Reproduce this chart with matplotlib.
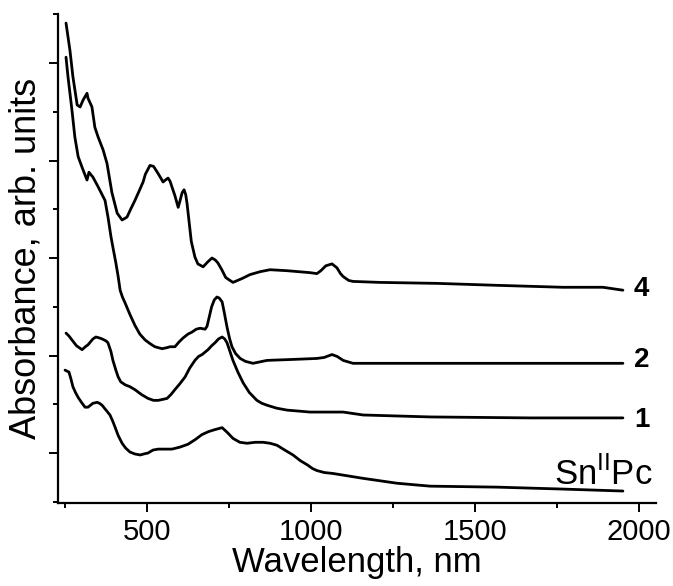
import numpy as np
import matplotlib
matplotlib.use('Agg')
import matplotlib.pyplot as plt
from matplotlib.ticker import MultipleLocator, FixedLocator

plt.rcParams['font.family'] = ['Liberation Sans', 'DejaVu Sans']
plt.rcParams['mathtext.fontset'] = 'custom'
plt.rcParams['mathtext.rm'] = 'Liberation Sans'

# Spectra (wavelength in nm, absorbance in arb. units, offset)
wl_4 = [253, 265, 274, 287, 296, 305, 317, 320, 332, 341, 351, 366, 378, 393, 409,
        424, 439, 450, 463, 475, 488, 495, 509, 520, 535, 549, 556, 564, 570, 585,
        595, 600, 607, 613, 618, 622, 628, 635, 646, 655, 671, 685, 698, 708, 716,
        728, 740, 753, 762, 790, 814, 845, 875, 927, 997, 1018, 1030, 1045, 1064,
        1079, 1090, 1098, 1115, 1128, 1210, 1384, 1567, 1768, 1890, 1951]
abs_4 = [4.41, 4.13, 3.86, 3.57, 3.55, 3.62, 3.69, 3.64, 3.55, 3.34, 3.24, 3.11, 2.97,
         2.67, 2.46, 2.39, 2.42, 2.50, 2.59, 2.68, 2.78, 2.86, 2.95, 2.94, 2.86, 2.78,
         2.80, 2.82, 2.79, 2.64, 2.52, 2.58, 2.67, 2.70, 2.65, 2.56, 2.38, 2.17, 2.01,
         1.94, 1.91, 1.96, 2.00, 1.98, 1.95, 1.88, 1.80, 1.77, 1.75, 1.79, 1.83, 1.86,
         1.88, 1.87, 1.85, 1.84, 1.87, 1.92, 1.94, 1.90, 1.84, 1.81, 1.77, 1.76, 1.75,
         1.74, 1.72, 1.70, 1.70, 1.67]

wl_2 = [253, 259, 271, 280, 290, 302, 317, 323, 335, 351, 372, 381, 390, 396, 405,
        412, 418, 425, 433, 448, 463, 478, 494, 510, 524, 546, 560, 570, 585, 598,
        610, 625, 637, 650, 662, 677, 683, 690, 697, 705, 713, 720, 729, 735, 744,
        752, 759, 770, 784, 800, 823, 866, 945, 1018, 1040, 1064, 1080, 1098, 1128,
        1363, 1668, 1951]
abs_2 = [4.06, 3.86, 3.52, 3.24, 3.04, 2.93, 2.80, 2.88, 2.83, 2.73, 2.59, 2.42, 2.22,
         2.11, 1.95, 1.81, 1.67, 1.60, 1.54, 1.42, 1.31, 1.22, 1.16, 1.12, 1.09, 1.07,
         1.08, 1.09, 1.09, 1.14, 1.18, 1.22, 1.24, 1.27, 1.28, 1.27, 1.30, 1.40, 1.50,
         1.57, 1.60, 1.59, 1.55, 1.45, 1.29, 1.17, 1.09, 1.02, 0.97, 0.94, 0.92, 0.95,
         0.96, 0.97, 0.98, 1.01, 0.99, 0.95, 0.92, 0.92, 0.92, 0.92]

wl_1 = [253, 262, 271, 285, 302, 312, 320, 335, 344, 355, 363, 375, 381, 390, 396,
        405, 412, 420, 433, 448, 463, 483, 503, 520, 534, 548, 561, 573, 585, 600,
        616, 630, 646, 657, 668, 686, 697, 707, 718, 729, 737, 744, 752, 762, 777,
        793, 812, 835, 850, 866, 895, 927, 997, 1067, 1098, 1159, 1363, 1668, 1951]
abs_1 = [1.23, 1.20, 1.16, 1.10, 1.06, 1.09, 1.11, 1.17, 1.19, 1.18, 1.17, 1.15, 1.13,
         1.04, 0.95, 0.85, 0.78, 0.73, 0.70, 0.68, 0.65, 0.60, 0.56, 0.54, 0.54, 0.55,
         0.56, 0.60, 0.65, 0.71, 0.78, 0.87, 0.95, 0.99, 1.01, 1.06, 1.10, 1.13, 1.17,
         1.19, 1.17, 1.13, 1.05, 0.95, 0.83, 0.72, 0.62, 0.54, 0.51, 0.49, 0.46, 0.44,
         0.42, 0.42, 0.42, 0.39, 0.37, 0.36, 0.36]

wl_pc = [250, 262, 268, 274, 282, 290, 300, 311, 320, 335, 348, 355, 363, 375, 387,
         395, 402, 412, 424, 435, 448, 463, 479, 490, 503, 518, 534, 555, 576, 600,
         625, 648, 668, 688, 707, 729, 745, 762, 783, 805, 830, 854, 875, 896, 920,
         945, 968, 988, 1005, 1018, 1040, 1067, 1159, 1262, 1363, 1567, 1768, 1951]
abs_pc = [0.85, 0.83, 0.76, 0.68, 0.62, 0.57, 0.52, 0.47, 0.47, 0.51, 0.52, 0.51, 0.49,
          0.44, 0.39, 0.33, 0.27, 0.18, 0.10, 0.05, 0.01, -0.01, -0.02, -0.01, 0.00,
          0.03, 0.04, 0.04, 0.04, 0.06, 0.09, 0.14, 0.19, 0.22, 0.24, 0.26, 0.21, 0.15,
          0.11, 0.10, 0.11, 0.11, 0.10, 0.08, 0.03, -0.02, -0.08, -0.12, -0.16, -0.18,
          -0.20, -0.21, -0.26, -0.31, -0.34, -0.35, -0.37, -0.39]

series = [(wl_4, abs_4), (wl_2, abs_2), (wl_1, abs_1), (wl_pc, abs_pc)]
labels = ['4', '2', '1']
label_y = [1.68, 0.95, 0.34]

fig = plt.figure(figsize=(6.73, 5.86), dpi=100)
ax = fig.add_axes([0.0862, 0.1416, 0.8886, 0.834])

for wl, ab in series:
    ax.plot(wl, ab, color='black', linewidth=2.0, solid_joinstyle='round',
            solid_capstyle='round')

for txt, yy in zip(labels, label_y):
    ax.text(1985, yy, txt, fontsize=20, fontweight='bold', ha='left', va='center')
ax.text(2043, -0.33, r'Sn$^{\mathrm{II}}$Pc', fontsize=25, ha='right', va='baseline')

ax.set_xlim(228.6, 2052)
ax.set_ylim(-0.513, 4.5)

ax.xaxis.set_major_locator(FixedLocator([500, 1000, 1500, 2000]))
ax.xaxis.set_minor_locator(FixedLocator([250, 750, 1250, 1750]))
ax.yaxis.set_major_locator(MultipleLocator(1))
ax.yaxis.set_minor_locator(MultipleLocator(0.5))

ax.spines['top'].set_visible(False)
ax.spines['right'].set_visible(False)
for s in ['left', 'bottom']:
    ax.spines[s].set_linewidth(1.6)

ax.tick_params(which='major', direction='out', length=6.5, width=1.4, labelsize=21, pad=4)
ax.tick_params(which='minor', direction='out', length=3.5, width=1.4)
ax.tick_params(axis='y', which='both', labelleft=False)

ax.set_xlabel('Wavelength, nm', fontsize=25, labelpad=0)
ax.set_ylabel('Absorbance, arb. units', fontsize=26, labelpad=4)

fig.savefig('out.png', dpi=100)
